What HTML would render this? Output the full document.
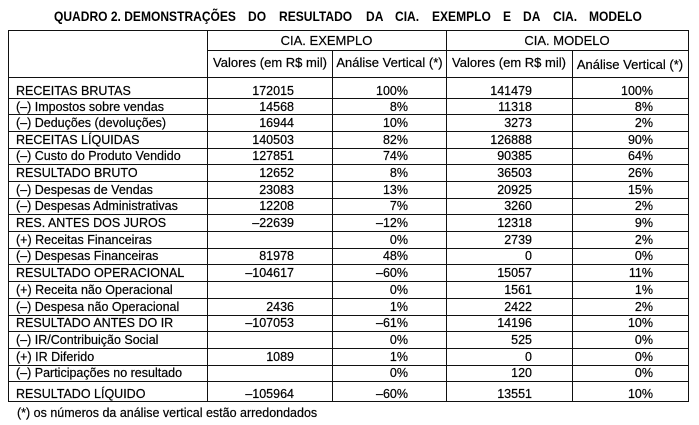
<!DOCTYPE html>
<html>
<head>
<meta charset="utf-8">
<style>
html,body{margin:0;padding:0;background:#fff;}
#c{position:relative;width:699px;height:425px;overflow:hidden;background:#fff;}
.h{position:absolute;background:#111;height:1px;}
.v{position:absolute;background:#111;width:1px;}
.t{position:absolute;font:12.5px/14px "Liberation Sans",Arial,sans-serif;white-space:nowrap;color:#000;-webkit-text-stroke:0.2px #000;}
.hd{position:absolute;font:13px/14px "Liberation Sans",Arial,sans-serif;white-space:nowrap;color:#000;text-align:center;-webkit-text-stroke:0.2px #000;}
.l{left:16px;}
.c2{left:0;width:294px;text-align:right;}
.c3{left:0;width:408px;text-align:right;}
.c4{left:0;width:532px;text-align:right;}
.c5{left:0;width:653px;text-align:right;}
#title{position:absolute;left:54px;width:588px;top:8px;height:16px;display:flex;justify-content:space-between;font:bold 14px/16px "Liberation Sans",Arial,sans-serif;color:#000;white-space:nowrap;}
#title span{display:block;overflow:visible;}
#title span b{display:inline-block;font-weight:bold;transform:scaleX(0.86);transform-origin:left center;}
</style>
</head>
<body>
<div id="c">
<div id="title">
<span style="width:182px"><b>QUADRO 2. DEMONSTRAÇÕES</b></span>
<span style="width:18px"><b>DO</b></span>
<span style="width:75px"><b>RESULTADO</b></span>
<span style="width:17px"><b>DA</b></span>
<span style="width:24px"><b>CIA.</b></span>
<span style="width:59px"><b>EXEMPLO</b></span>
<span style="width:8px"><b>E</b></span>
<span style="width:17px"><b>DA</b></span>
<span style="width:24px"><b>CIA.</b></span>
<span style="width:53px"><b>MODELO</b></span>
</div>

<!-- frame lines -->
<div class="h" style="left:8px;width:681px;top:30px;"></div>
<div class="h" style="left:207px;width:482px;top:50px;"></div>
<div class="h" style="left:8px;width:681px;top:77px;"></div>
<div class="h" style="left:8px;width:681px;top:98px;"></div>
<div class="h" style="left:8px;width:681px;top:114px;"></div>
<div class="h" style="left:8px;width:681px;top:131px;"></div>
<div class="h" style="left:8px;width:681px;top:148px;"></div>
<div class="h" style="left:8px;width:681px;top:164px;"></div>
<div class="h" style="left:8px;width:681px;top:181px;"></div>
<div class="h" style="left:8px;width:681px;top:198px;"></div>
<div class="h" style="left:8px;width:681px;top:214px;"></div>
<div class="h" style="left:8px;width:681px;top:231px;"></div>
<div class="h" style="left:8px;width:681px;top:248px;"></div>
<div class="h" style="left:8px;width:681px;top:264px;"></div>
<div class="h" style="left:8px;width:681px;top:281px;"></div>
<div class="h" style="left:8px;width:681px;top:298px;"></div>
<div class="h" style="left:8px;width:681px;top:315px;"></div>
<div class="h" style="left:8px;width:681px;top:331px;"></div>
<div class="h" style="left:8px;width:681px;top:348px;"></div>
<div class="h" style="left:8px;width:681px;top:365px;"></div>
<div class="h" style="left:8px;width:681px;top:381px;"></div>
<div class="h" style="left:8px;width:681px;top:401px;"></div>

<div class="v" style="left:8px;top:30px;height:372px;"></div>
<div class="v" style="left:207px;top:30px;height:372px;"></div>
<div class="v" style="left:332px;top:50px;height:352px;"></div>
<div class="v" style="left:446px;top:30px;height:372px;"></div>
<div class="v" style="left:572px;top:50px;height:352px;"></div>
<div class="v" style="left:688px;top:30px;height:372px;"></div>

<!-- headers -->
<div class="hd" style="left:207px;width:239px;top:34px;">CIA. EXEMPLO</div>
<div class="hd" style="left:446px;width:242px;top:34px;">CIA. MODELO</div>
<div class="hd" style="left:207px;width:126px;top:56px;">Valores (em R$ mil)</div>
<div class="hd" style="left:332px;width:115px;top:56px;">Análise Vertical (*)</div>
<div class="hd" style="left:446px;width:126px;top:56px;">Valores (em R$ mil)</div>
<div class="hd" style="left:572px;width:116px;top:58px;">Análise Vertical (*)</div>

<!-- rows -->
<div class="t l" style="top:83.5px">RECEITAS BRUTAS</div><div class="t c2" style="top:83.5px">172015</div><div class="t c3" style="top:83.5px">100%</div><div class="t c4" style="top:83.5px">141479</div><div class="t c5" style="top:83.5px">100%</div>
<div class="t l" style="top:99.5px">(–) Impostos sobre vendas</div><div class="t c2" style="top:99.5px">14568</div><div class="t c3" style="top:99.5px">8%</div><div class="t c4" style="top:99.5px">11318</div><div class="t c5" style="top:99.5px">8%</div>
<div class="t l" style="top:116.2px">(–) Deduções (devoluções)</div><div class="t c2" style="top:116.2px">16944</div><div class="t c3" style="top:116.2px">10%</div><div class="t c4" style="top:116.2px">3273</div><div class="t c5" style="top:116.2px">2%</div>
<div class="t l" style="top:133.2px">RECEITAS LÍQUIDAS</div><div class="t c2" style="top:133.2px">140503</div><div class="t c3" style="top:133.2px">82%</div><div class="t c4" style="top:133.2px">126888</div><div class="t c5" style="top:133.2px">90%</div>
<div class="t l" style="top:149.2px">(–) Custo do Produto Vendido</div><div class="t c2" style="top:149.2px">127851</div><div class="t c3" style="top:149.2px">74%</div><div class="t c4" style="top:149.2px">90385</div><div class="t c5" style="top:149.2px">64%</div>
<div class="t l" style="top:166.2px">RESULTADO BRUTO</div><div class="t c2" style="top:166.2px">12652</div><div class="t c3" style="top:166.2px">8%</div><div class="t c4" style="top:166.2px">36503</div><div class="t c5" style="top:166.2px">26%</div>
<div class="t l" style="top:183.2px">(–) Despesas de Vendas</div><div class="t c2" style="top:183.2px">23083</div><div class="t c3" style="top:183.2px">13%</div><div class="t c4" style="top:183.2px">20925</div><div class="t c5" style="top:183.2px">15%</div>
<div class="t l" style="top:199.2px">(–) Despesas Administrativas</div><div class="t c2" style="top:199.2px">12208</div><div class="t c3" style="top:199.2px">7%</div><div class="t c4" style="top:199.2px">3260</div><div class="t c5" style="top:199.2px">2%</div>
<div class="t l" style="top:216.2px">RES. ANTES DOS JUROS</div><div class="t c2" style="top:216.2px">–22639</div><div class="t c3" style="top:216.2px">–12%</div><div class="t c4" style="top:216.2px">12318</div><div class="t c5" style="top:216.2px">9%</div>
<div class="t l" style="top:233.2px">(+) Receitas Financeiras</div><div class="t c3" style="top:233.2px">0%</div><div class="t c4" style="top:233.2px">2739</div><div class="t c5" style="top:233.2px">2%</div>
<div class="t l" style="top:249.2px">(–) Despesas Financeiras</div><div class="t c2" style="top:249.2px">81978</div><div class="t c3" style="top:249.2px">48%</div><div class="t c4" style="top:249.2px">0</div><div class="t c5" style="top:249.2px">0%</div>
<div class="t l" style="top:266.2px">RESULTADO OPERACIONAL</div><div class="t c2" style="top:266.2px">–104617</div><div class="t c3" style="top:266.2px">–60%</div><div class="t c4" style="top:266.2px">15057</div><div class="t c5" style="top:266.2px">11%</div>
<div class="t l" style="top:283.2px">(+) Receita não Operacional</div><div class="t c3" style="top:283.2px">0%</div><div class="t c4" style="top:283.2px">1561</div><div class="t c5" style="top:283.2px">1%</div>
<div class="t l" style="top:300.2px">(–) Despesa não Operacional</div><div class="t c2" style="top:300.2px">2436</div><div class="t c3" style="top:300.2px">1%</div><div class="t c4" style="top:300.2px">2422</div><div class="t c5" style="top:300.2px">2%</div>
<div class="t l" style="top:316.2px">RESULTADO ANTES DO IR</div><div class="t c2" style="top:316.2px">–107053</div><div class="t c3" style="top:316.2px">–61%</div><div class="t c4" style="top:316.2px">14196</div><div class="t c5" style="top:316.2px">10%</div>
<div class="t l" style="top:333.2px">(–) IR/Contribuição Social</div><div class="t c3" style="top:333.2px">0%</div><div class="t c4" style="top:333.2px">525</div><div class="t c5" style="top:333.2px">0%</div>
<div class="t l" style="top:350.2px">(+) IR Diferido</div><div class="t c2" style="top:350.2px">1089</div><div class="t c3" style="top:350.2px">1%</div><div class="t c4" style="top:350.2px">0</div><div class="t c5" style="top:350.2px">0%</div>
<div class="t l" style="top:366.2px">(–) Participações no resultado</div><div class="t c3" style="top:366.2px">0%</div><div class="t c4" style="top:366.2px">120</div><div class="t c5" style="top:366.2px">0%</div>
<div class="t l" style="top:386.5px">RESULTADO LÍQUIDO</div><div class="t c2" style="top:386.5px">–105964</div><div class="t c3" style="top:386.5px">–60%</div><div class="t c4" style="top:386.5px">13551</div><div class="t c5" style="top:386.5px">10%</div>

<div class="t" style="left:17px;top:405.5px">(*) os números da análise vertical estão arredondados</div>
</div>
</body>
</html>
